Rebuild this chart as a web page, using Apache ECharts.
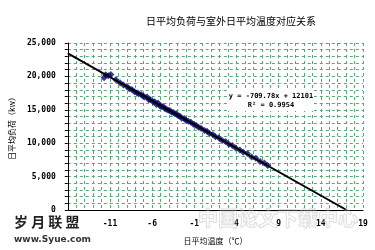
<!DOCTYPE html>
<html><head><meta charset="utf-8">
<script src="https://cdn.jsdelivr.net/npm/echarts@6/dist/echarts.min.js"></script>
<style>html,body{margin:0;padding:0;background:#fff}#c{width:375px;height:250px}</style>
</head><body><div id="c"></div>
<script>
// Data
var tempX = [-11.7,-11.5,-11.2,-10.9,-10.3,-9.8,-9.4,-9.0,-8.7,-8.4,-8.1,-7.8,-7.6,-7.3,-7.1,-6.9,-6.6,-6.4,-6.2,-5.9,-5.7,-5.5,-5.3,-5.1,-4.9,-4.7,-4.5,-4.3,-4.1,-3.9,-3.7,-3.5,-3.3,-3.1,-2.9,-2.7,-2.5,-2.2,-2.0,-1.7,-1.4,-1.1,-0.8,-0.5,-0.2,0.2,0.5,0.8,1.2,1.5,1.9,2.3,2.7,3.1,3.5,3.9,4.4,4.8,5.3,5.8,6.3,6.8,7.3,7.7];
var loadY = [19800,20250,20100,20300,19500,19050,18700,18500,18150,18050,17700,17550,17400,17300,17050,16900,16900,16500,16500,16200,16200,15800,16000,15600,15500,15500,15200,15100,14950,14900,14650,14600,14400,14350,14100,14050,13750,13700,13450,13300,13150,12850,12700,12400,12250,11900,11800,11450,11300,10950,10800,10400,10250,9850,9650,9300,9000,8650,8450,7950,7750,7250,7050,6650];
var trendX = [-16, 17.05];
var trendY = [23457, 0];
var xTickLabels = [-11,-6,-1,4,9,14,19];
var yTickLabels = [0,5000,10000,15000,20000,25000];
var titleText = '日平均负荷与室外日平均温度对应关系';
var eqText = 'y = -709.78x + 12101';
var r2Text = 'R² = 0.9954';

var scatterData = tempX.map(function(x,i){return [x, loadY[i]];});
var trendData = trendX.map(function(x,i){return [x, trendY[i]];});
var gridColor = '#5aa676';
var lblFont = {fontFamily:'DejaVu Sans Mono', fontSize:8, fontWeight:'bold', color:'#000'};

var chart = echarts.init(document.getElementById('c'), null, {renderer:'canvas'});
chart.setOption({
  animation:false,
  backgroundColor:'#fff',
  title:{text:titleText, left:226, top:11, textAlign:'center',
    textStyle:{fontFamily:'Noto Sans CJK SC', fontSize:10, fontWeight:'normal', color:'#000'}},
  grid:{left:66, right:12, top:43, bottom:38},
  xAxis:{type:'value', min:-16, max:19, interval:1,
    name:'日平均温度（℃）', nameLocation:'middle', nameGap:27,
    nameTextStyle:{fontFamily:'Noto Sans CJK SC', fontSize:8, color:'#000'},
    axisLine:{show:true, onZero:false, lineStyle:{color:'#000', width:1}},
    axisTick:{show:false},
    axisLabel:Object.assign({margin:10, formatter:function(v){return xTickLabels.indexOf(Math.round(v))>=0 && Math.abs(v-Math.round(v))<1e-6 ? String(Math.round(v)) : '';}}, lblFont),
    splitLine:{show:true, lineStyle:{color:gridColor, type:[3,3], width:1}}
  },
  yAxis:{type:'value', min:0, max:25000, interval:1000,
    name:'日平均负荷（kw）', nameLocation:'middle', nameGap:46,
    nameTextStyle:{fontFamily:'Noto Sans CJK SC', fontSize:8, color:'#000'},
    axisLine:{show:true, onZero:false, lineStyle:{color:'#000', width:1}},
    axisTick:{show:true, length:3, inside:false, lineStyle:{color:'#000'}},
    axisLabel:Object.assign({margin:12, formatter:function(v){return yTickLabels.indexOf(v)>=0 ? v.toLocaleString('en-US') : '';}}, lblFont),
    splitLine:{show:true, lineStyle:{color:gridColor, type:[3,3], width:1}}
  },
  series:[
    {type:'scatter', data:scatterData, symbol:'diamond', symbolSize:7,
      itemStyle:{color:'#0a0a70'}, z:3},
    {type:'line', data:trendData, showSymbol:false, symbol:'none',
      lineStyle:{color:'#000', width:2}, z:4}
  ],
  graphic:[
    {type:'rect', shape:{x:228, y:88, width:86, height:23}, style:{fill:'#fff'}, z:10},
    {type:'text', x:271, y:93, style:{text:eqText, fontFamily:'DejaVu Sans Mono', fontSize:7, fontWeight:'bold', fill:'#000', textAlign:'center'}, z:11},
    {type:'text', x:271, y:102, style:{text:r2Text, fontFamily:'DejaVu Sans Mono', fontSize:7, fontWeight:'bold', fill:'#000', textAlign:'center'}, z:11},
    {type:'text', x:278, y:208, style:{text:'中国论文下载中心', fontFamily:'Noto Sans CJK SC', fontSize:20, fontWeight:'bold', fill:'rgba(255,255,255,0.2)', stroke:'rgba(150,150,150,0.35)', lineWidth:1, textAlign:'center'}, z:12},
    {type:'text', x:14, y:215, style:{text:'岁 月 联 盟', fontFamily:'Noto Sans CJK SC', fontSize:14, fontWeight:'bold', fill:'#222', textAlign:'left'}, z:12},
    {type:'text', x:14, y:235, style:{text:'www.Syue.com', fontFamily:'DejaVu Sans', fontSize:9, fontWeight:'bold', fill:'#333', textAlign:'left'}, z:12}
  ]
});
</script></body></html>
